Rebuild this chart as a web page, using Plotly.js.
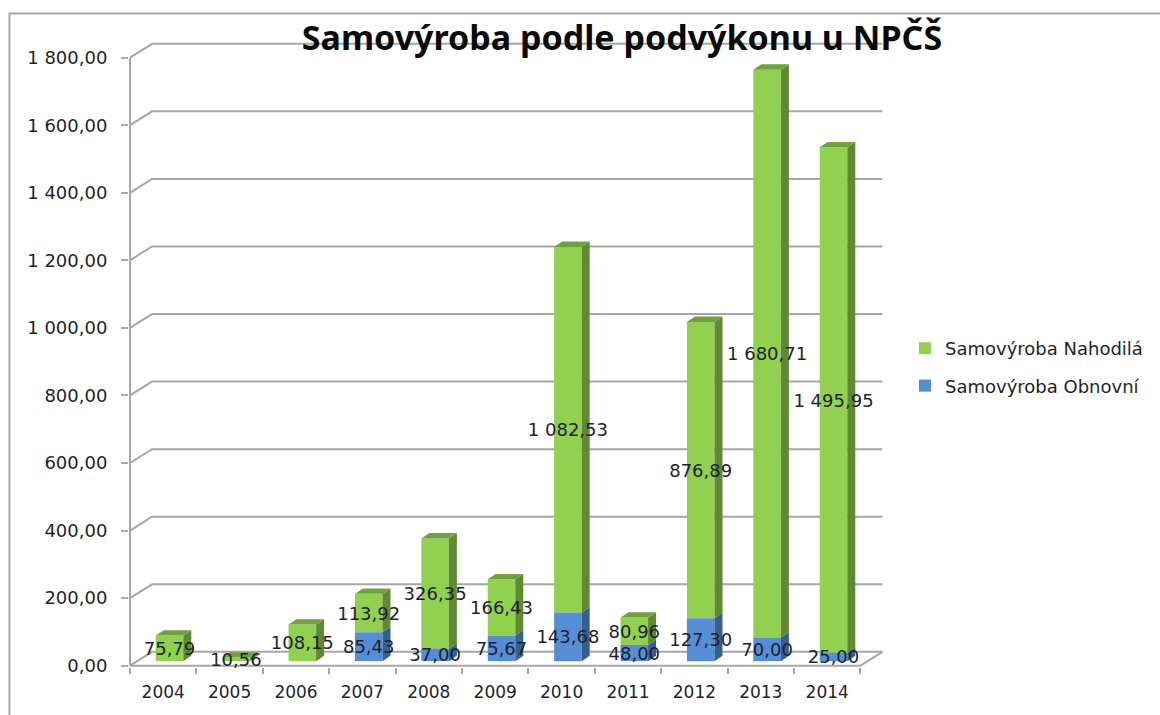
<!DOCTYPE html>
<html><head><meta charset="utf-8">
<script src="https://cdn.plot.ly/plotly-3.0.1.min.js"></script>
<style>html,body{margin:0;padding:0;background:#fff}</style></head>
<body><div id="chart" style="width:1160px;height:715px"></div>
<script>
const years = ["2004","2005","2006","2007","2008","2009","2010","2011","2012","2013","2014"];
const nahodila = [75.79,10.56,108.15,113.92,326.35,166.43,1082.53,80.96,876.89,1680.71,1495.95];
const obnovni = [0,0,0,85.43,37.00,75.67,143.68,48.00,127.30,70.00,25.00];
const yTicks = [0,200,400,600,800,1000,1200,1400,1600,1800];

const GREEN="#92D050", GREEN_SIDE="#5F8A33", GREEN_TOP="#6FA23E";
const BLUE="#558ED5", BLUE_SIDE="#355F91", BLUE_TOP="#4678B5";
const GRID="#A6A6A6", TEXT="#1F1F2B";
const PX_X=66.4, PX_Y=0.3378;
const xMin=-0.515, xMax=-0.5+753/PX_X, yMin=-3.85, yMax=(665.7-38)/PX_Y;
const wallDx=22/PX_X, wallDy=41, barDx=8/PX_X, barDy=16, lift=13.5, barOff=0.095, barW=0.415;
const labelDrop=6;

const fmt = v => { const s=v.toFixed(2).replace(".",","); const [a,b]=s.split(",");
  return a.replace(/\B(?=(\d{3})+$)/g," ")+","+b; };
const xs = years.map((_,i)=>i+barOff);
const polyTrace=(px,py,color)=>({type:"scatter",mode:"lines",x:px,y:py,fill:"toself",fillcolor:color,
  line:{width:0,color:color},hoverinfo:"skip",showlegend:false,cliponaxis:false});
function faces(b0,b1,sideColor){
  const px=[],py=[];
  xs.forEach((x,i)=>{ if(b1[i]<=b0[i])return; const r=x+barW/2;
    px.push(r,r+barDx,r+barDx,r,r,null); py.push(b0[i],b0[i]+barDy,b1[i]+barDy,b1[i],b0[i],null);});
  return polyTrace(px,py,sideColor);
}
function tops(b1,color){
  const px=[],py=[];
  xs.forEach((x,i)=>{ const l=x-barW/2,r=x+barW/2;
    px.push(l,r,r+barDx,l+barDx,l,null); py.push(b1[i],b1[i],b1[i]+barDy,b1[i]+barDy,b1[i],null);});
  return polyTrace(px,py,color);
}
const base0=years.map(()=>lift);
const base1=obnovni.map(v=>v+lift);
const topAll=nahodila.map((v,i)=>v+base1[i]);

const labelX=[],labelY=[],labelT=[];
xs.forEach((x,i)=>{
  if(obnovni[i]>0){labelX.push(x);labelY.push(lift+obnovni[i]/2-labelDrop);labelT.push(fmt(obnovni[i]));}
  labelX.push(x);labelY.push(base1[i]+nahodila[i]/2-labelDrop);labelT.push(fmt(nahodila[i]));
});

const traces=[
 {type:"bar",name:"Samovýroba Nahodilá",x:xs,y:nahodila,base:base1,width:barW,marker:{color:GREEN,line:{width:0}},hoverinfo:"skip",legendgroup:"a"},
 {type:"bar",name:"Samovýroba Obnovní",x:xs,y:obnovni,base:base0,width:barW,marker:{color:BLUE,line:{width:0}},hoverinfo:"skip",legendgroup:"b"},
 faces(base0,base1,BLUE_SIDE),
 faces(base1,topAll,GREEN_SIDE),
 tops(topAll,GREEN_TOP),
 {type:"scatter",mode:"text",x:labelX,y:labelY,text:labelT,textposition:"middle center",cliponaxis:false,
  textfont:{family:"DejaVu Sans",size:18,color:TEXT},hoverinfo:"skip",showlegend:false}
];

const gl={color:GRID,width:2};
const shapes=[];
yTicks.forEach(v=>{
  shapes.push({type:"path",layer:"below",xref:"x",yref:"y",line:gl,
    path:`M -0.5 ${v} L ${-0.5+wallDx} ${v+wallDy} L ${10.5+wallDx} ${v+wallDy}`});
});
shapes.push({type:"line",layer:"below",xref:"x",yref:"y",x0:-0.5,x1:-0.5,y0:0,y1:1800,line:gl});
shapes.push({type:"path",layer:"below",xref:"x",yref:"y",line:gl,
  path:`M -0.5 0 L 10.5 0 L ${10.5+wallDx} ${wallDy}`});
const toPx=x=>(x-129)/(883-129), toPy=y=>(667-y)/(667-38);
shapes.push({type:"path",layer:"below",xref:"paper",yref:"paper",line:gl,
  path:`M ${toPx(9.5)} ${toPy(715)} L ${toPx(9.5)} ${toPy(13.5)} L ${toPx(1160)} ${toPy(13.5)}`});

const layout={
 width:1160,height:715,paper_bgcolor:"#fff",plot_bgcolor:"rgba(0,0,0,0)",
 margin:{l:129,r:277,t:38,b:48},barmode:"overlay",
 font:{family:"DejaVu Sans",color:TEXT,size:18},
 title:{text:"Samovýroba podle podvýkonu u NPČŠ",font:{family:"Noto Sans",size:34,weight:700,color:"#0a0a0a"},
   x:toPx(622),xanchor:"center",xref:"paper",y:1-38/715,yanchor:"middle",yref:"container",pad:{t:0,b:0,l:0,r:0}},
 xaxis:{type:"linear",range:[xMin,xMax],tickmode:"array",tickvals:years.map((_,i)=>i),ticktext:years,
   ticks:"",ticklabelstandoff:13,showgrid:false,zeroline:false,showline:false,
   tickfont:{family:"DejaVu Sans",size:17,color:TEXT},
   minor:{tickmode:"array",tickvals:[-0.5].concat(years.map((_,i)=>i+0.5)),ticks:"outside",ticklen:6,tickwidth:2,tickcolor:GRID,showgrid:false}},
 yaxis:{type:"linear",range:[yMin,yMax],tickmode:"array",tickvals:yTicks,ticktext:yTicks.map(fmt),
   ticks:"outside",ticklen:7,tickwidth:2,tickcolor:GRID,ticklabelstandoff:10,showgrid:false,zeroline:false,showline:false,
   tickfont:{family:"DejaVu Sans",size:18,color:TEXT}},
 legend:{x:toPx(905),xanchor:"left",y:toPy(367),yanchor:"middle",bgcolor:"rgba(0,0,0,0)",
   font:{family:"DejaVu Sans",size:18,color:TEXT},tracegroupgap:11,itemclick:false,itemdoubleclick:false,traceorder:"grouped"},
 shapes:shapes,showlegend:true
};
Plotly.newPlot("chart",traces,layout,{displayModeBar:false,staticPlot:true});
</script></body></html>
